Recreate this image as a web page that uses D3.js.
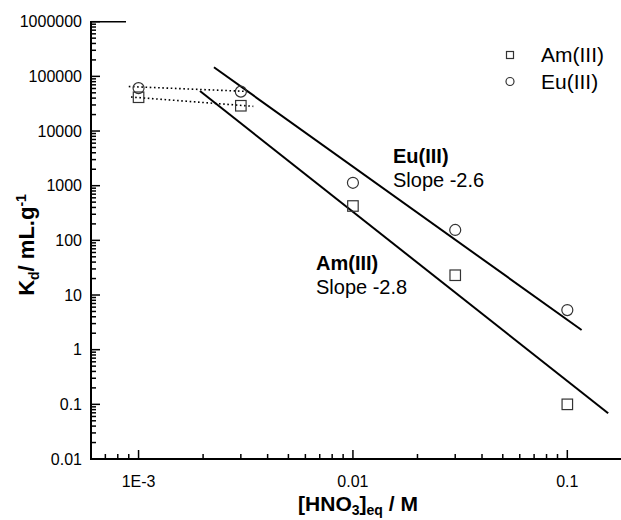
<!DOCTYPE html>
<html><head><meta charset="utf-8">
<script src="https://cdn.jsdelivr.net/npm/d3@7"></script>
<style>
body{margin:0;background:#fff}
svg{display:block}
text{font-family:Arial,"Liberation Sans",sans-serif;fill:#000}
</style>
</head><body>
<svg id="chart" width="621" height="520"></svg>
<script>
// Nitric acid concentration (M) and distribution ratios (mL/g)
const acidConc = [0.001, 0.003, 0.01, 0.03, 0.1];
const amKd = [41500, 29000, 425, 23, 0.1];
const euKd = [61000, 52500, 1130, 155, 5.3];

// Linear fits in log-log space (end points)
const amFit = [[0.001934, 53950], [0.1551, 0.0685]];
const euFit = [[0.002247, 146600], [0.1166, 2.29]];

// Dotted guides through the low-acid points
const amDot = [[0.000922, 41900], [0.00343, 28300]];
const euDot = [[0.000900, 65200], [0.00331, 52800]];

// Axis ticks
const xMajor = [0.001, 0.01, 0.1];
const xLabels = ["1E-3", "0.01", "0.1"];
const yMajor = [0.01, 0.1, 1, 10, 100, 1000, 10000, 100000, 1000000];
const yLabels = ["0.01", "0.1", "1", "10", "100", "1000", "10000", "100000", "1000000"];

const seriesNames = ["Am(III)", "Eu(III)"];

const svg = d3.select("#chart");
const plotLeft = 91, plotRight = 621, plotTop = 21.7, plotBottom = 459;

const x = d3.scaleLog().domain([0.0006, 0.178]).range([plotLeft, plotRight]);
const y = d3.scaleLog().domain([0.01, 1000000]).range([plotBottom, plotTop]);

// minor tick values (2..9 per decade) inside the domains
function minors(scale) {
  const [a, b] = scale.domain();
  const out = [];
  for (let e = Math.floor(Math.log10(a)); e <= Math.ceil(Math.log10(b)); e++) {
    for (let m = 2; m <= 9; m++) {
      const v = m * Math.pow(10, e);
      if (v > a * 1.0001 && v < b * 0.9999) out.push(+v.toPrecision(3));
    }
  }
  return out;
}

const g = svg.append("g");

// x ticks (inward)
g.selectAll(".xmin").data(minors(x)).enter().append("line")
  .attr("x1", d => x(d)).attr("x2", d => x(d))
  .attr("y1", plotBottom).attr("y2", plotBottom - 5)
  .attr("stroke", "#000").attr("stroke-width", 1.5);
g.selectAll(".xmaj").data(xMajor).enter().append("line")
  .attr("x1", d => x(d)).attr("x2", d => x(d))
  .attr("y1", plotBottom).attr("y2", plotBottom - 9)
  .attr("stroke", "#000").attr("stroke-width", 1.5);

// y ticks (inward)
g.selectAll(".ymin").data(minors(y)).enter().append("line")
  .attr("y1", d => y(d)).attr("y2", d => y(d))
  .attr("x1", plotLeft).attr("x2", plotLeft + 5)
  .attr("stroke", "#000").attr("stroke-width", 1.5);
g.selectAll(".ymaj").data(yMajor).enter().append("line")
  .attr("y1", d => y(d)).attr("y2", d => y(d))
  .attr("x1", plotLeft).attr("x2", plotLeft + 9)
  .attr("stroke", "#000").attr("stroke-width", 1.5);

// axis lines
g.append("line").attr("x1", plotLeft).attr("x2", plotRight).attr("y1", plotBottom).attr("y2", plotBottom)
  .attr("stroke", "#000").attr("stroke-width", 2);
g.append("line").attr("x1", plotLeft).attr("x2", plotLeft).attr("y1", plotTop).attr("y2", plotBottom + 1)
  .attr("stroke", "#000").attr("stroke-width", 2);
g.append("line").attr("x1", plotLeft - 1).attr("x2", plotLeft + 35).attr("y1", plotTop).attr("y2", plotTop)
  .attr("stroke", "#000").attr("stroke-width", 1.5);

// tick labels
g.selectAll(".xl").data(xMajor).enter().append("text")
  .attr("x", d => x(d)).attr("y", 487)
  .attr("text-anchor", "middle").attr("font-size", 16)
  .text((d, i) => xLabels[i]);
g.selectAll(".yl").data(yMajor).enter().append("text")
  .attr("x", 82).attr("y", d => y(d)).attr("dy", "0.36em")
  .attr("text-anchor", "end").attr("font-size", 16)
  .text((d, i) => yLabels[i]);

// axis titles
const xt = svg.append("text").attr("x", 358).attr("y", 511)
  .attr("text-anchor", "middle").attr("font-size", 21).attr("font-weight", "bold");
xt.append("tspan").text("[HNO");
xt.append("tspan").attr("font-size", 14).attr("dy", 4).text("3");
xt.append("tspan").attr("dy", -4).text("]");
xt.append("tspan").attr("font-size", 14).attr("dy", 4).text("eq");
xt.append("tspan").attr("dy", -4).text(" / M");

const yt = svg.append("text").attr("transform", "translate(34,245) rotate(-90)")
  .attr("text-anchor", "middle").attr("font-size", 22).attr("font-weight", "bold");
yt.append("tspan").text("K");
yt.append("tspan").attr("font-size", 14).attr("dy", 5).text("d");
yt.append("tspan").attr("dy", -5).text("/ mL.g");
yt.append("tspan").attr("font-size", 14).attr("dy", -8).text("-1");

// fitted lines
const line = d3.line().x(d => x(d[0])).y(d => y(d[1]));
[amFit, euFit].forEach(f => {
  svg.append("path").attr("d", line(f)).attr("fill", "none")
    .attr("stroke", "#000").attr("stroke-width", 2);
});
[amDot, euDot].forEach(f => {
  svg.append("path").attr("d", line(f)).attr("fill", "none")
    .attr("stroke", "#000").attr("stroke-width", 1.6)
    .attr("stroke-dasharray", "1.6,2.6");
});

// data markers
const mk = "#333";
svg.selectAll(".am").data(acidConc).enter().append("rect")
  .attr("x", d => x(d) - 5.25).attr("y", (d, i) => y(amKd[i]) - 5.25)
  .attr("width", 10.5).attr("height", 10.5)
  .attr("fill", "none").attr("stroke", mk).attr("stroke-width", 1.2);
svg.selectAll(".eu").data(acidConc).enter().append("circle")
  .attr("cx", d => x(d)).attr("cy", (d, i) => y(euKd[i])).attr("r", 5.5)
  .attr("fill", "none").attr("stroke", mk).attr("stroke-width", 1.2);

// legend
const lg = svg.append("g");
lg.append("rect").attr("x", 506.5).attr("y", 51.5).attr("width", 7).attr("height", 7)
  .attr("fill", "none").attr("stroke", mk).attr("stroke-width", 1.2);
lg.append("circle").attr("cx", 510).attr("cy", 81.5).attr("r", 4)
  .attr("fill", "none").attr("stroke", mk).attr("stroke-width", 1.2);
lg.append("text").attr("x", 541).attr("y", 62).attr("font-size", 21).text(seriesNames[0]);
lg.append("text").attr("x", 541).attr("y", 88.5).attr("font-size", 21).text(seriesNames[1]);

// slope annotations
const ann = [
  {name: "Eu(III)", slope: "Slope -2.6", x: 393, y: 163},
  {name: "Am(III)", slope: "Slope -2.8", x: 316, y: 270}
];
ann.forEach(a => {
  svg.append("text").attr("x", a.x).attr("y", a.y).attr("font-size", 20)
    .attr("font-weight", "bold").text(a.name);
  svg.append("text").attr("x", a.x).attr("y", a.y + 24).attr("font-size", 20)
    .text(a.slope);
});
</script>
</body></html>
